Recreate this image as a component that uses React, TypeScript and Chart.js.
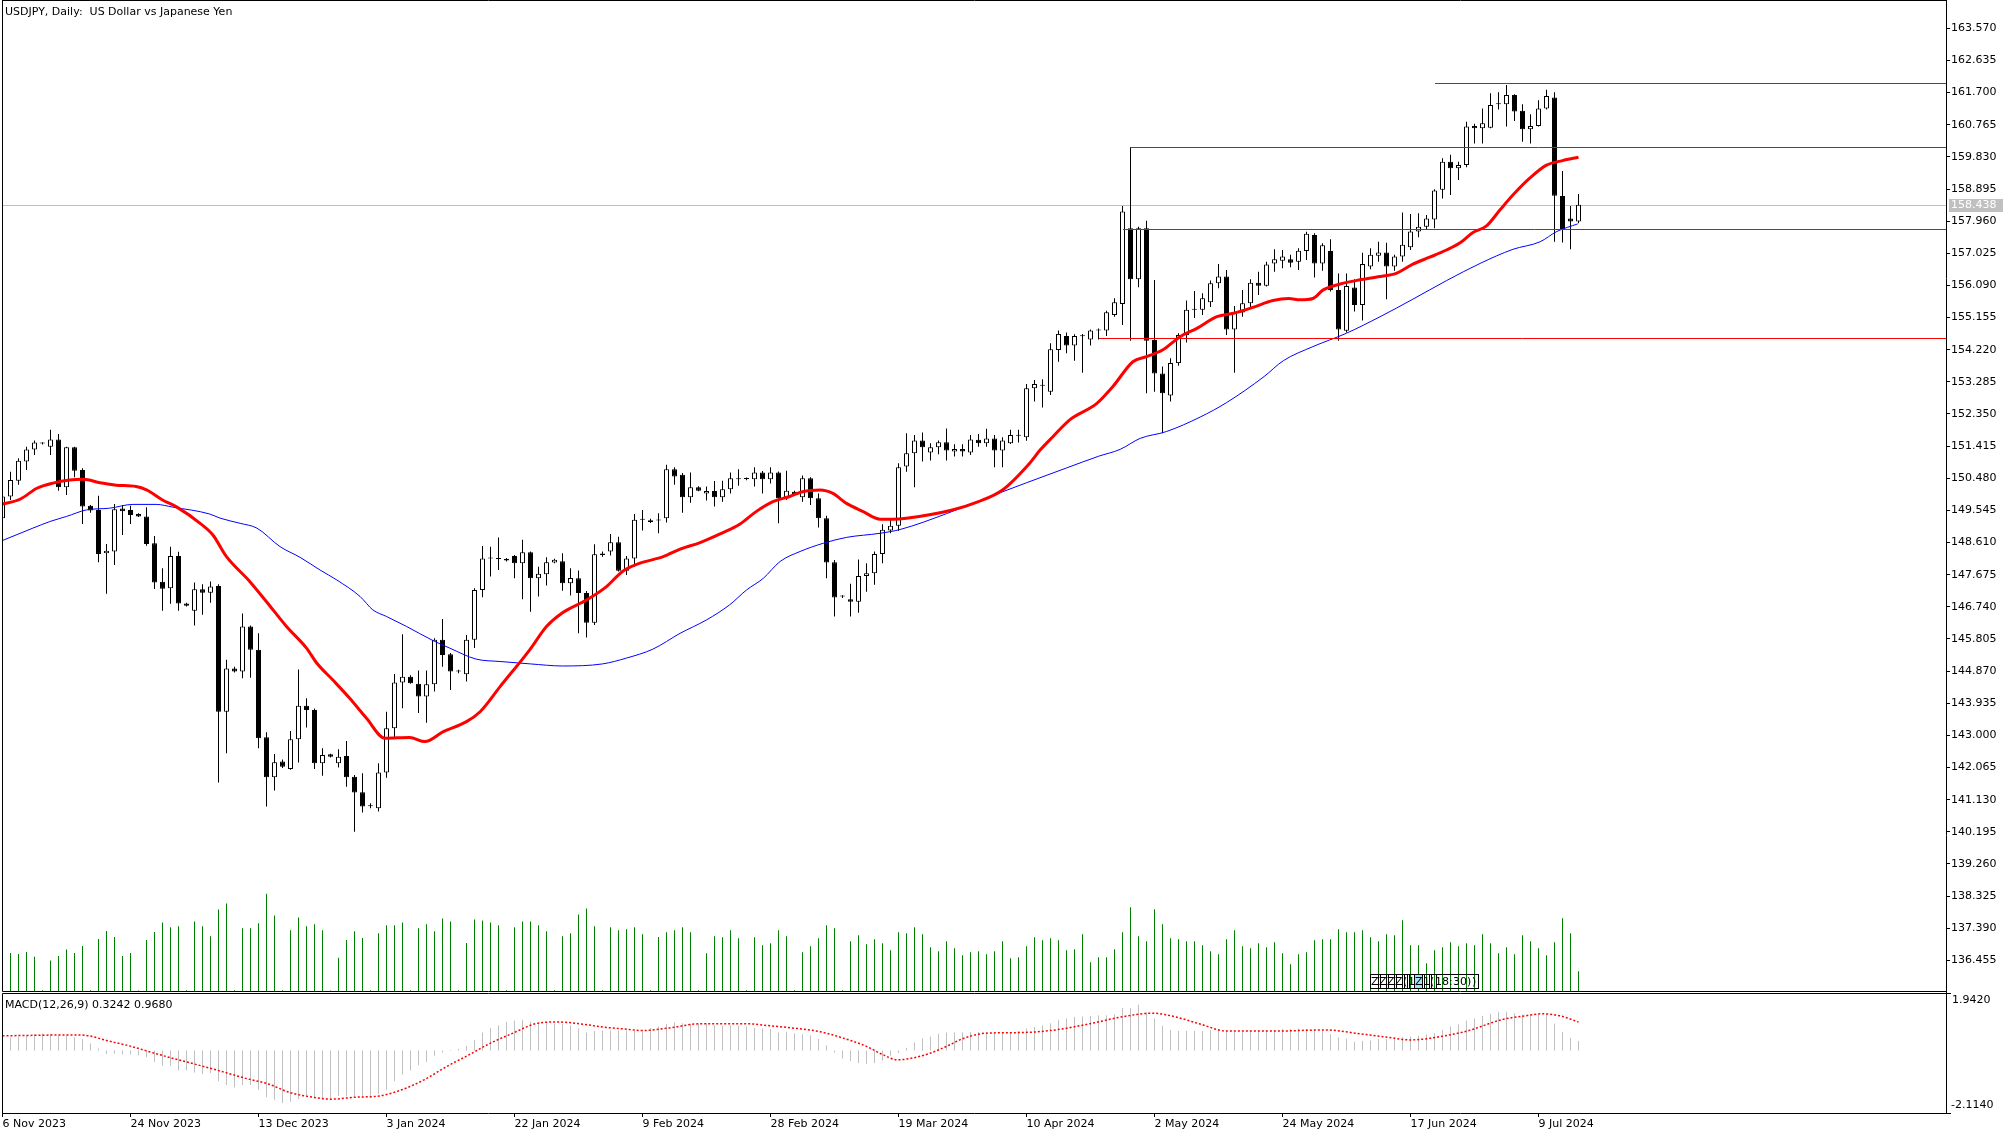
import React, { useEffect, useRef } from 'react';
import { Chart, registerables } from 'chart.js';

Chart.register(...registerables);

const FONT = '"DejaVu Sans", Verdana, sans-serif';

const chartTitle = 'USDJPY, Daily:  US Dollar vs Japanese Yen';
const macdTitle = 'MACD(12,26,9) 0.3242 0.9680';
const eventText = 'ZZZZ(1Z1(18:30))';

const dateTickIndex = [0, 16, 32, 48, 64, 80, 96, 112, 128, 144, 160, 176, 192];
const dateTickLabels = ['6 Nov 2023', '24 Nov 2023', '13 Dec 2023', '3 Jan 2024', '22 Jan 2024', '9 Feb 2024', '28 Feb 2024', '19 Mar 2024', '10 Apr 2024', '2 May 2024', '24 May 2024', '17 Jun 2024', '9 Jul 2024'];

const priceTicks = [136.455, 137.39, 138.325, 139.26, 140.195, 141.13, 142.065, 143.0, 143.935, 144.87, 145.805, 146.74, 147.675, 148.61, 149.545, 150.48, 151.415, 152.35, 153.285, 154.22, 155.155, 156.09, 157.025, 157.96, 158.895, 159.83, 160.765, 161.7, 162.635, 163.57];
const macdScaleTicks = [1.942, -2.114];
const lastPrice = 158.438;

const levelPrices = [161.97, 160.11, 157.72, 154.55];
const levelStartIndex = [179, 141, 140, 137];

const opens = [149.32,149.95,150.41,150.97,151.32,151.49,151.40,151.61,150.22,151.38,150.72,149.68,149.56,148.30,148.35,149.60,149.56,149.44,149.37,148.59,147.47,147.28,148.22,146.84,146.63,147.25,147.15,147.35,143.69,144.95,144.86,146.17,145.49,142.95,141.78,142.24,142.02,142.89,143.86,143.74,142.19,142.45,142.19,142.40,141.80,141.35,140.95,140.88,141.92,143.21,144.54,144.71,144.50,144.13,144.49,145.78,145.36,144.86,144.78,145.78,147.23,148.15,148.13,148.13,148.22,148.01,148.33,147.57,147.69,148.03,148.07,147.43,147.57,147.14,146.28,148.29,148.35,148.62,147.79,148.15,149.27,149.26,149.28,149.32,150.74,150.58,149.93,150.22,150.04,150.11,149.93,150.16,150.48,150.46,150.45,150.65,150.45,150.65,149.90,150.09,149.93,150.48,149.90,149.32,148.04,147.04,146.96,146.89,147.64,147.72,148.28,148.96,149.10,150.82,151.21,151.58,151.23,151.38,151.53,151.26,151.33,151.23,151.60,151.50,151.64,151.29,151.50,151.73,151.67,153.10,153.19,153.00,154.21,154.62,154.34,154.62,154.52,154.78,154.78,155.23,155.55,157.75,156.27,157.75,154.50,153.53,152.89,153.83,154.65,155.38,155.38,155.60,156.15,156.35,154.81,155.30,155.57,156.17,156.08,156.73,156.81,156.85,156.78,157.09,157.56,156.73,157.09,155.96,154.77,156.03,155.52,156.64,156.95,157.05,156.64,156.93,157.20,157.66,157.80,158.01,158.87,159.69,159.50,159.59,160.73,160.66,160.68,161.36,161.36,161.63,161.17,160.63,160.73,161.24,161.56,158.69,158.04,157.95];
const highs = [150.00,150.67,151.06,151.40,151.58,151.53,151.89,151.77,151.40,151.40,150.77,149.70,149.97,148.57,149.73,149.70,149.68,149.46,149.64,148.80,147.86,148.49,148.34,146.86,147.45,147.40,147.48,147.40,145.20,145.00,146.55,146.20,145.97,143.09,142.46,142.30,143.13,144.92,144.08,143.78,142.63,142.47,142.60,142.84,141.85,141.90,141.03,142.19,143.69,144.79,145.94,144.75,144.89,144.89,145.83,146.39,145.40,144.91,145.92,147.28,148.51,148.49,148.76,148.16,148.25,148.69,148.35,147.91,148.18,148.14,148.30,147.86,147.80,147.20,148.56,148.35,148.86,148.78,148.22,149.44,149.56,149.30,149.46,150.87,150.80,150.63,150.65,150.25,150.24,150.40,150.41,150.65,150.74,150.50,150.80,150.69,150.80,150.68,150.70,150.12,150.56,150.51,150.04,149.39,148.10,147.08,147.41,148.12,148.01,148.35,149.14,149.27,150.92,151.79,151.74,151.81,151.50,151.58,151.93,151.47,151.47,151.74,151.77,151.92,151.74,151.67,151.89,151.89,153.22,153.34,153.36,154.41,154.78,154.72,154.67,154.68,154.81,154.84,155.35,155.72,158.40,160.11,157.80,157.97,156.25,153.73,153.97,154.70,155.65,155.93,155.86,156.23,156.71,156.54,155.49,155.96,156.27,156.49,156.78,157.14,157.12,156.98,157.17,157.65,157.61,157.32,157.43,156.44,156.44,156.27,157.04,157.17,157.36,157.33,156.98,158.21,158.17,158.19,158.14,158.89,159.79,159.89,159.69,160.85,160.79,161.24,161.68,161.71,161.92,161.65,161.36,161.07,161.48,161.78,161.71,159.42,158.40,158.75];
const lows = [149.25,149.85,150.29,150.72,151.16,151.46,151.16,150.12,149.99,150.51,149.15,149.48,148.04,147.12,147.96,148.83,149.15,149.35,148.52,147.26,146.63,146.83,146.63,146.75,146.20,146.51,146.86,141.63,142.48,144.83,144.66,144.68,142.63,140.93,141.40,142.05,142.00,142.21,143.23,142.02,141.83,142.36,142.07,141.51,140.20,140.76,140.88,140.79,141.77,142.95,143.79,144.50,143.65,143.37,144.28,145.00,144.32,144.81,144.57,145.54,147.02,147.62,147.81,148.06,147.57,146.96,146.60,147.04,147.36,148.01,147.21,147.07,145.97,145.85,146.21,148.20,148.23,147.77,147.67,147.91,148.96,149.18,148.88,149.19,150.29,149.48,149.77,150.10,149.83,149.66,149.80,150.04,150.26,150.42,150.24,150.04,150.33,149.17,149.85,149.98,149.80,149.70,149.05,147.57,146.46,147.00,146.46,146.57,147.18,147.38,148.01,148.88,148.95,150.67,150.22,150.97,151.00,151.18,151.00,151.11,151.11,151.16,151.40,151.40,150.80,150.80,151.48,151.52,151.57,152.71,152.54,152.90,153.87,154.12,153.90,153.55,154.34,154.52,154.62,155.18,154.94,154.48,156.04,152.95,153.00,151.79,152.71,153.75,154.43,155.14,155.23,155.46,156.01,154.65,153.55,155.18,155.45,155.81,156.06,156.49,156.59,156.62,156.54,156.83,156.32,156.52,155.91,154.48,154.72,155.33,155.07,156.56,156.78,155.69,156.52,156.78,157.12,157.49,157.72,157.75,158.62,158.72,159.16,159.53,160.22,160.22,160.66,161.21,160.71,160.87,160.27,160.22,160.71,161.21,157.36,157.34,157.14,157.90];
const closes = [149.95,150.43,150.99,151.32,151.52,151.49,151.61,150.22,151.38,150.70,149.66,149.54,148.28,148.37,149.58,149.52,149.41,149.37,148.57,147.45,147.27,148.22,146.84,146.77,147.25,147.15,147.33,143.69,144.95,144.86,146.17,145.49,142.92,141.78,142.22,142.09,142.89,143.86,143.74,142.19,142.43,142.38,142.38,141.78,141.34,140.93,140.94,141.92,143.21,144.54,144.71,144.52,144.13,144.49,145.78,145.34,144.86,144.86,145.78,147.23,148.15,148.16,148.14,148.09,148.01,148.33,147.57,147.70,148.04,148.11,147.43,147.58,147.14,146.28,148.27,148.25,148.62,147.79,148.15,149.27,149.28,149.21,149.25,150.74,150.53,149.93,150.22,150.12,150.11,149.93,150.16,150.48,150.45,150.46,150.65,150.45,150.65,149.90,150.12,150.02,150.48,149.90,149.32,148.03,147.01,147.04,146.89,147.64,147.72,148.28,148.98,149.10,150.80,151.21,151.58,151.38,151.38,151.53,151.29,151.33,151.26,151.61,151.50,151.64,151.29,151.58,151.74,151.72,153.10,153.22,153.17,154.23,154.68,154.34,154.62,154.61,154.78,154.79,155.31,155.60,158.24,156.27,157.75,154.48,153.53,152.95,153.83,154.65,155.38,155.39,155.72,156.15,156.35,154.81,155.30,155.57,156.17,156.08,156.70,156.85,156.93,156.75,157.10,157.59,156.73,157.26,155.96,154.81,156.07,155.52,156.71,156.98,157.05,156.64,156.93,157.27,157.66,157.80,158.04,158.85,159.69,159.50,159.59,160.71,160.66,160.81,161.34,161.37,161.63,161.15,160.63,160.73,161.24,161.60,158.70,157.70,157.95,158.438];
const volumes = [37500,38100,37100,39100,34200,700,30500,35100,41400,38100,45000,700,51900,60100,53900,35100,38100,500,50900,59100,68600,63700,64700,700,69600,64700,54800,81400,87400,700,62700,62700,67700,97200,75500,700,60800,73600,64700,66700,60800,500,33200,50900,59800,52900,700,57800,65700,65700,68600,700,62700,66700,59800,72600,69600,700,47900,71600,70600,68600,65700,700,63700,69600,69600,65700,59800,700,54800,57800,76500,82400,64700,700,63700,60800,61700,63700,56800,700,53900,58800,60800,63700,58800,700,37700,54700,53700,60700,52700,700,53700,45700,47700,60700,54700,700,38700,44700,52700,65700,62700,700,49700,55700,46700,51700,47700,40700,58700,57700,63700,56700,43700,39700,49700,42700,35700,38700,39700,36700,39700,49700,32700,33700,44700,53700,50700,52700,50700,40700,41700,56700,28700,33700,33700,41700,58700,83700,54700,49700,81700,66700,52700,51700,49700,49700,45700,39700,36700,51700,60700,44700,42700,47700,43700,48700,37700,26700,36700,38700,50700,51700,51700,61700,58700,58700,60700,53700,49700,56700,55700,70700,45700,45700,27700,40700,43700,48700,44700,47700,45700,56700,47700,37700,43700,36700,55700,49700,42700,35700,48700,72700,57700,19700];
const macdHist = [0.43,0.45,0.48,0.51,0.55,0.59,0.57,0.52,0.52,0.45,0.39,0.24,0.07,-0.12,-0.11,-0.14,-0.14,-0.16,-0.23,-0.39,-0.52,-0.52,-0.68,-0.68,-0.75,-0.80,-0.77,-1.05,-1.18,-1.25,-1.18,-1.18,-1.34,-1.59,-1.68,-1.79,-1.75,-1.66,-1.57,-1.59,-1.68,-1.66,-1.55,-1.57,-1.57,-1.59,-1.62,-1.48,-1.34,-1.05,-0.82,-0.68,-0.50,-0.39,-0.18,-0.07,0.02,0.05,0.16,0.36,0.61,0.77,0.86,0.98,1.02,1.05,0.98,0.95,0.93,0.91,0.89,0.86,0.75,0.61,0.66,0.68,0.68,0.68,0.68,0.68,0.70,0.77,0.82,0.91,0.95,0.93,0.91,0.92,0.93,0.86,0.84,0.86,0.84,0.82,0.77,0.75,0.73,0.61,0.64,0.59,0.55,0.52,0.39,0.18,-0.07,-0.27,-0.36,-0.43,-0.45,-0.43,-0.34,-0.18,-0.09,0.09,0.27,0.41,0.48,0.57,0.61,0.61,0.61,0.64,0.64,0.61,0.59,0.59,0.59,0.66,0.75,0.80,0.86,0.93,1.05,1.09,1.14,1.16,1.18,1.20,1.20,1.23,1.45,1.45,1.56,1.30,1.09,0.84,0.70,0.66,0.66,0.66,0.66,0.70,0.70,0.66,0.64,0.64,0.66,0.68,0.68,0.70,0.73,0.73,0.75,0.73,0.70,0.66,0.55,0.45,0.41,0.30,0.32,0.34,0.39,0.39,0.39,0.45,0.48,0.50,0.55,0.59,0.70,0.82,0.89,1.02,1.09,1.18,1.25,1.32,1.32,1.27,1.23,1.23,1.23,1.25,0.91,0.64,0.43,0.3242];

const maRed: [number, number][] = [[0,149.73],[2.2,149.87],[4.3,150.19],[6.3,150.34],[8.4,150.43],[10.1,150.45],[12.2,150.35],[14.2,150.28],[16.7,150.24],[18,150.14],[20,149.85],[21.8,149.64],[24.7,149.17],[26.3,148.83],[28,148.2],[30.9,147.48],[33,146.89],[35.5,146.17],[38,145.54],[39.3,145.1],[41.3,144.61],[43.4,144.08],[45.5,143.5],[47.8,142.92],[50.9,142.94],[52.8,142.82],[55.1,143.11],[58,143.4],[59.7,143.69],[62.2,144.42],[65.9,145.49],[68,146.17],[70,146.57],[73,146.94],[75.5,147.33],[77.5,147.77],[79.7,148.01],[82.6,148.2],[84.7,148.42],[87.2,148.61],[89.7,148.86],[92.2,149.15],[94.2,149.51],[96.3,149.8],[98.4,149.95],[100,150.09],[102.2,150.14],[103.8,150.04],[105.5,149.75],[107.6,149.51],[109.7,149.29],[111.3,149.29],[113,149.32],[118.6,149.55],[122,149.8],[125,150.14],[128.4,150.92],[129.7,151.3],[131.3,151.69],[133.4,152.18],[136.8,152.66],[138.8,153.15],[141.3,153.87],[143,154.02],[145,154.21],[147.2,154.6],[149.3,154.84],[151.8,155.18],[153.9,155.28],[156.3,155.45],[158.8,155.65],[160.8,155.71],[162.2,155.67],[163.8,155.71],[165.1,155.96],[167.2,156.13],[169.2,156.23],[172.2,156.35],[174.2,156.44],[176.3,156.71],[178.4,156.91],[180.5,157.12],[182.2,157.33],[183.8,157.63],[185.5,157.82],[187.2,158.29],[188.8,158.72],[190.9,159.21],[193,159.59],[195,159.72],[197,159.82]];
const maBlue: [number, number][] = [[0,148.67],[3.8,149.03],[5.9,149.22],[8,149.37],[10.5,149.56],[13.4,149.61],[16.3,149.72],[19.2,149.72],[21.3,149.64],[25.9,149.44],[27.2,149.32],[29.7,149.17],[31.8,149.03],[34.7,148.49],[37.2,148.18],[39.7,147.81],[41.8,147.52],[44.7,147.04],[46.3,146.65],[48,146.46],[50.5,146.17],[53.8,145.76],[55.9,145.54],[59.2,145.22],[62.2,145.15],[66,145.08],[70,145.02],[75,145.08],[78,145.25],[81.3,145.51],[84.7,145.97],[88,146.36],[90.9,146.8],[93,147.23],[95.1,147.57],[97.2,148.06],[99.7,148.35],[102.6,148.59],[105.5,148.76],[109.7,148.88],[112.2,148.99],[118,149.45],[123,149.91],[128,150.35],[133,150.78],[137,151.12],[139.7,151.32],[142.2,151.64],[145.5,151.84],[149.7,152.26],[153,152.68],[157.7,153.44],[160.1,153.9],[163.8,154.31],[168,154.7],[172.2,155.18],[176.3,155.69],[180.5,156.23],[184.7,156.73],[188.8,157.14],[192.2,157.36],[194.3,157.66],[196.9,157.88]];
const macdSignal: [number, number][] = [[0,0.5],[9,0.53],[10.8,0.5],[13,0.34],[15.8,0.16],[19.2,-0.11],[22,-0.32],[24.8,-0.52],[27.6,-0.73],[30.4,-0.95],[33.2,-1.14],[35.9,-1.43],[38.7,-1.59],[41,-1.66],[44.3,-1.59],[47.1,-1.55],[49.9,-1.34],[52.7,-1.0],[55.5,-0.55],[58.3,-0.15],[61,0.25],[63.8,0.59],[66.6,0.91],[69.4,0.97],[72.2,0.91],[75,0.8],[77.8,0.73],[80,0.68],[83.4,0.77],[87.2,0.91],[93,0.91],[96,0.84],[99.3,0.75],[102.2,0.64],[105.1,0.42],[108,0.14],[110.1,-0.15],[111.9,-0.32],[113.7,-0.26],[115.8,-0.11],[118,0.14],[120.1,0.41],[123,0.59],[127.3,0.61],[131.6,0.7],[135.9,0.91],[140.2,1.16],[143.8,1.27],[146.7,1.14],[149.6,0.91],[153.1,0.66],[158.9,0.66],[165.3,0.7],[169.7,0.57],[173.2,0.45],[176,0.36],[180.3,0.5],[183.3,0.68],[187.4,1.05],[190.3,1.18],[192.5,1.25],[194.7,1.18],[197,0.968]];

// view ranges (pixel layout of the panels)
const X_MIN = -0.0625;
const X_MAX = 242.9375;
const PRICE_MIN = 132.016;
const PRICE_MAX = 164.364;
const VOL_MIN = -122000;
const VOL_MAX = 990000;
const MACD_MIN = -2.131;
const MACD_MAX = 35.77;

const idx = opens.map((_, i) => i);

const mtPlugin = {
  id: 'mtDecor',
  beforeDatasetsDraw(chart: any) {
    const { ctx, chartArea: a, scales } = chart;
    const y = Math.round(scales.y.getPixelForValue(lastPrice)) + 0.5;
    ctx.save();
    ctx.strokeStyle = '#C0C0C0';
    ctx.lineWidth = 1;
    ctx.beginPath();
    ctx.moveTo(a.left, y);
    ctx.lineTo(a.right, y);
    ctx.stroke();
    ctx.restore();
  },
  afterDatasetsDraw(chart: any) {
    const { ctx, chartArea: a, scales } = chart;
    ctx.save();
    ctx.strokeStyle = '#FF0000';
    ctx.lineWidth = 1;
    levelPrices.forEach((p, k) => {
      const y = Math.round(scales.y.getPixelForValue(p)) + 0.5;
      const x0 = Math.round(scales.x.getPixelForValue(levelStartIndex[k]));
      ctx.beginPath();
      ctx.moveTo(x0, y);
      ctx.lineTo(a.right, y);
      ctx.stroke();
    });
    ctx.restore();
  },
  afterDraw(chart: any) {
    const { ctx, chartArea: a, scales } = chart;
    const mainBottom = Math.round(scales.yv.getPixelForValue(0));
    const macdTop = Math.round(scales.ym.getPixelForValue(macdScaleTicks[0]));
    const macdBottom = Math.round(scales.ym.getPixelForValue(macdScaleTicks[1]));
    ctx.save();
    ctx.strokeStyle = '#000';
    ctx.lineWidth = 1;
    ctx.beginPath();
    // main panel frame
    ctx.moveTo(2.5, 0.5); ctx.lineTo(a.right + 0.5, 0.5);
    ctx.moveTo(2.5, 0); ctx.lineTo(2.5, mainBottom + 0.5);
    ctx.moveTo(2.5, mainBottom + 0.5); ctx.lineTo(a.right + 0.5, mainBottom + 0.5);
    // macd panel frame
    ctx.moveTo(2.5, macdTop + 0.5); ctx.lineTo(a.right + 0.5, macdTop + 0.5);
    ctx.moveTo(2.5, macdTop + 0.5); ctx.lineTo(2.5, macdBottom + 0.5);
    ctx.moveTo(2.5, macdBottom + 0.5); ctx.lineTo(a.right + 0.5, macdBottom + 0.5);
    // right axis line
    ctx.moveTo(a.right + 0.5, 0); ctx.lineTo(a.right + 0.5, macdBottom + 1);
    // macd scale ticks
    ctx.moveTo(a.right, macdTop + 0.5); ctx.lineTo(a.right + 5, macdTop + 0.5);
    ctx.moveTo(a.right, macdBottom + 0.5); ctx.lineTo(a.right + 5, macdBottom + 0.5);
    ctx.stroke();

    ctx.font = '11px ' + FONT;
    ctx.fillStyle = '#000';
    ctx.textBaseline = 'middle';
    ctx.textAlign = 'left';
    ctx.fillText(chartTitle, 5, 12);
    ctx.fillText(macdTitle, 5, macdTop + 12);
    ctx.fillText(macdScaleTicks[0].toFixed(4), a.right + 6, macdTop + 7);
    ctx.fillText(macdScaleTicks[1].toFixed(4), a.right + 5, macdBottom - 8);

    // current price label
    const py = Math.round(scales.y.getPixelForValue(lastPrice));
    ctx.fillStyle = '#C0C0C0';
    ctx.fillRect(a.right + 3, py - 6, 54, 13);
    ctx.fillStyle = '#FFFFFF';
    ctx.fillText(lastPrice.toFixed(3), a.right + 5, py + 0.5);

    // event labels box
    const ex0 = 1370;
    const ey0 = mainBottom - 17;
    let ex = ex0;
    for (let k = 0; k < eventText.length; k++) {
      const ch = eventText[k];
      const w = Math.ceil(ctx.measureText(ch).width);
      if (k === 6) {
        ctx.fillStyle = '#9FE3F5';
        ctx.fillRect(ex, ey0 + 1, w, 13);
      }
      ctx.strokeStyle = '#000';
      if (k < 9) ctx.strokeRect(ex + 0.5, ey0 + 0.5, w + 2, 14);
      ctx.fillStyle = '#000';
      ctx.fillText(ch, ex + 1, ey0 + 8);
      ex += w;
    }
    ctx.strokeRect(ex0 + 0.5, ey0 + 0.5, ex - ex0 + 2, 14);
    ctx.restore();
  },
};

export default function App() {
  const ref = useRef<HTMLCanvasElement | null>(null);

  useEffect(() => {
    document.body.style.margin = '0';
    document.body.style.overflow = 'hidden';
    Chart.defaults.font.family = FONT;
    Chart.defaults.font.size = 11;
    Chart.defaults.color = '#000';

    const wickData = idx.map((i) => ({ x: i, y: [lows[i], highs[i]] }));
    const bodyData = idx.map((i) => ({ x: i, y: [Math.min(opens[i], closes[i]), Math.max(opens[i], closes[i])] }));
    const bodyColors = idx.map((i) => (closes[i] >= opens[i] ? '#FFFFFF' : '#000000'));
    const volData = idx.map((i) => ({ x: i, y: volumes[i] }));
    const macdData = idx.map((i) => ({ x: i, y: macdHist[i] }));

    const chart = new Chart(ref.current as HTMLCanvasElement, {
      type: 'bar',
      data: {
        datasets: [
          { type: 'line', label: 'MA red', data: maRed.map(([x, y]) => ({ x, y })), borderColor: '#FF0000', borderWidth: 3, pointRadius: 0, cubicInterpolationMode: 'monotone', yAxisID: 'y', order: 1 } as any,
          { type: 'line', label: 'MA blue', data: maBlue.map(([x, y]) => ({ x, y })), borderColor: '#0000FF', borderWidth: 1, pointRadius: 0, cubicInterpolationMode: 'monotone', yAxisID: 'y', order: 2 } as any,
          { type: 'bar', label: 'Body', data: bodyData, backgroundColor: bodyColors, borderColor: '#000000', borderWidth: 1, borderSkipped: false, barThickness: 5, minBarLength: 1, grouped: false, inflateAmount: 0, yAxisID: 'y', order: 3 } as any,
          { type: 'bar', label: 'Wick', data: wickData, backgroundColor: '#000000', borderWidth: 0, barThickness: 1, minBarLength: 1, grouped: false, inflateAmount: 0, yAxisID: 'y', order: 4 } as any,
          { type: 'bar', label: 'Volume', data: volData, backgroundColor: '#008000', borderWidth: 0, barThickness: 1, grouped: false, inflateAmount: 0, yAxisID: 'yv', order: 5 } as any,
          { type: 'bar', label: 'MACD', data: macdData, backgroundColor: '#C0C0C0', borderWidth: 0, barThickness: 1, grouped: false, inflateAmount: 0, yAxisID: 'ym', order: 6 } as any,
          { type: 'line', label: 'Signal', data: macdSignal.map(([x, y]) => ({ x, y })), borderColor: '#FF0000', borderWidth: 1.5, borderDash: [2, 2], pointRadius: 0, cubicInterpolationMode: 'monotone', yAxisID: 'ym', order: 1 } as any,
        ],
      },
      options: {
        responsive: false,
        animation: false,
        events: [],
        layout: { padding: { left: 2, top: 1, right: 0, bottom: 0 } },
        plugins: { legend: { display: false }, tooltip: { enabled: false }, title: { display: false } },
        scales: {
          x: {
            type: 'linear',
            min: X_MIN,
            max: X_MAX,
            offset: false,
            position: 'bottom',
            grid: { offset: false, drawOnChartArea: false, drawTicks: true, tickLength: 4, color: '#000' },
            border: { display: false },
            ticks: {
              autoSkip: false,
              maxRotation: 0,
              minRotation: 0,
              align: 'start',
              padding: 1,
              color: '#000',
              font: { family: FONT, size: 11 },
              callback: (v: any) => {
                const k = dateTickIndex.indexOf(Number(v));
                return k >= 0 ? dateTickLabels[k] : '';
              },
            },
            afterBuildTicks: (s: any) => {
              s.ticks = dateTickIndex.map((v) => ({ value: v }));
            },
            afterFit: (s: any) => {
              s.height = 24;
              s.paddingLeft = 0;
              s.paddingRight = 0;
            },
          },
          y: {
            type: 'linear',
            position: 'right',
            min: PRICE_MIN,
            max: PRICE_MAX,
            grid: { drawOnChartArea: false, drawTicks: true, tickLength: 4, color: '#000' },
            border: { display: false },
            ticks: {
              padding: 1,
              color: '#000',
              font: { family: FONT, size: 11 },
              callback: (v: any) => Number(v).toFixed(3),
            },
            afterBuildTicks: (s: any) => {
              s.ticks = priceTicks.map((v) => ({ value: v }));
            },
            afterFit: (s: any) => {
              s.width = 70;
              s.paddingTop = 0;
              s.paddingBottom = 0;
            },
          },
          yv: { type: 'linear', display: false, position: 'right', min: VOL_MIN, max: VOL_MAX },
          ym: { type: 'linear', display: false, position: 'right', min: MACD_MIN, max: MACD_MAX },
        },
      } as any,
      plugins: [mtPlugin as any],
    });
    return () => chart.destroy();
  }, []);

  return (
    <div style={{ position: 'absolute', left: 0, top: 0, width: 2016, height: 1137, background: '#FFFFFF' }}>
      <canvas ref={ref} width={2016} height={1137} style={{ display: 'block', width: 2016, height: 1137 }} />
    </div>
  );
}
